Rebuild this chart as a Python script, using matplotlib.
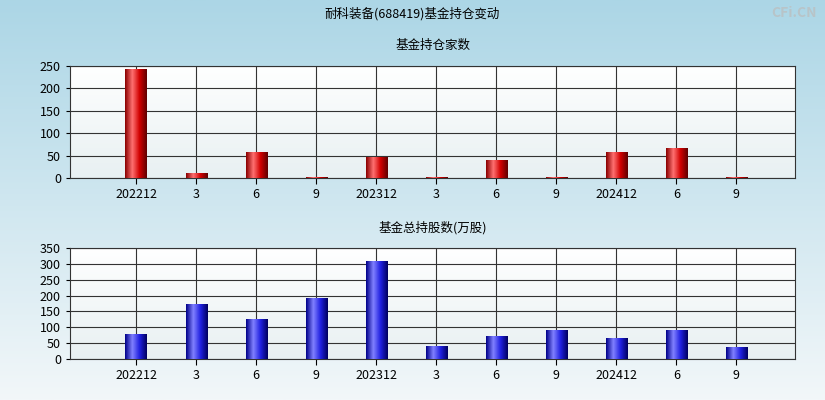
import numpy as np
import matplotlib.pyplot as plt
from matplotlib.colors import LinearSegmentedColormap

plt.rcParams['font.family'] = ['Noto Sans CJK SC', 'DejaVu Sans']

labels = ['202212', '3', '6', '9', '202312', '3', '6', '9', '202412', '6', '9']
fund_count = [243, 12, 57, 3, 46, 3, 40, 3, 57, 68, 3]
fund_shares = [80, 175, 125, 193, 310, 42, 72, 93, 65, 90, 37]

fig = plt.figure(figsize=(8.25, 4), dpi=100)
bg = fig.add_axes([0, 0, 1, 1], zorder=-10)
grad = np.linspace(0, 1, 256).reshape(-1, 1)
bg.imshow(grad, aspect='auto', extent=[0, 1, 0, 1],
          cmap=LinearSegmentedColormap.from_list('bg', ['#f2f7f9', '#acd6e6']), origin='lower')
bg.axis('off')
fig.text(0.5, 0.955, '耐科装备(688419)基金持仓变动', ha='center', fontsize=9)
fig.text(0.99, 0.985, 'CFi.CN', ha='right', va='top', fontsize=10, color='#b8c4c8', fontweight='bold')

red_cmap = LinearSegmentedColormap.from_list('r', ['#8a0000', '#ff7070', '#d00000', '#600000'])
blue_cmap = LinearSegmentedColormap.from_list('b', ['#00008a', '#8080ff', '#2020e0', '#000060'])


def panel(rect, values, ymax, step, cmap, title):
    ax = fig.add_axes(rect)
    ax.set_facecolor('none')
    ax.imshow(grad, aspect='auto', extent=[-1.1, 10.98, 0, ymax],
              cmap=LinearSegmentedColormap.from_list('a', ['#e8f0f2', '#ffffff']), origin='lower', zorder=0)
    x = np.arange(len(values))
    bars = ax.bar(x, values, width=0.35, color='none', zorder=3)
    hg = np.linspace(0, 1, 64).reshape(1, -1)
    for b in bars:
        im = ax.imshow(hg, aspect='auto', cmap=cmap, zorder=3,
                       extent=[b.get_x(), b.get_x() + b.get_width(), 0, b.get_height()])
        im.set_clip_path(b)
    ax.set_xlim(-1.1, 10.98)
    ax.set_ylim(0, ymax)
    ax.set_xticks(x)
    ax.set_xticklabels(labels, fontsize=9)
    ax.set_yticks(np.arange(0, ymax + 1, step))
    ax.tick_params(axis='y', labelsize=9, length=3)
    ax.tick_params(axis='x', length=4)
    ax.grid(True, color='#333333', linewidth=0.8, zorder=1)
    for s in ax.spines.values():
        s.set_color('#333333')
    ax.set_title(title, fontsize=9, pad=12)
    return ax


panel([0.0848, 0.555, 0.879, 0.28], fund_count, 250, 50, red_cmap, '基金持仓家数')
panel([0.0848, 0.1025, 0.879, 0.2775], fund_shares, 350, 50, blue_cmap, '基金总持股数(万股)')

fig.savefig('out.png', dpi=100)
